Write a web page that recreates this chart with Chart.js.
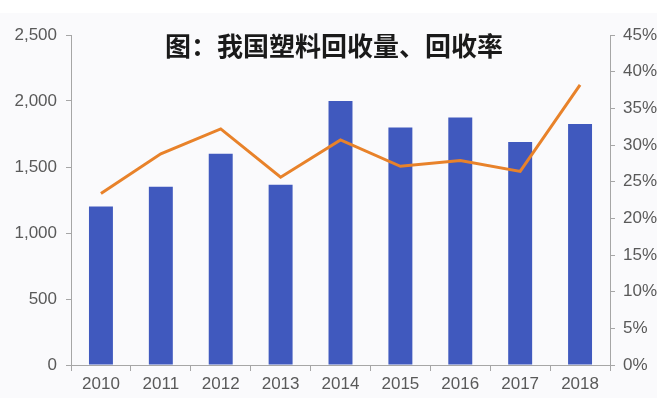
<!DOCTYPE html>
<html>
<head>
<meta charset="utf-8">
<script src="https://cdn.jsdelivr.net/npm/chart.js@4/dist/chart.umd.min.js"></script>
<style>
  html, body { margin: 0; padding: 0; background: #fff; }
  #wrap { width: 657px; height: 398px; }
</style>
</head>
<body>
<div id="wrap"><canvas id="myChart" width="657" height="398"></canvas></div>
<script>
// 年份
var years = ["2010", "2011", "2012", "2013", "2014", "2015", "2016", "2017", "2018"];
// 回收量（万吨）
var recycleAmount = [1200, 1350, 1600, 1365, 2000, 1800, 1875, 1690, 1825];
// 回收率
var recycleRate = [0.234, 0.288, 0.322, 0.256, 0.307, 0.271, 0.279, 0.264, 0.382];
// 刻度
var leftTicks = [0, 500, 1000, 1500, 2000, 2500];
var rightTicks = [0, 0.05, 0.10, 0.15, 0.20, 0.25, 0.30, 0.35, 0.40, 0.45];

var chartTitle = "图：我国塑料回收量、回收率";

var tickFont = { family: "'Liberation Sans', Arial, sans-serif", size: 17 };
var tickColor = "#595959";
var axisColor = "#a6a6a6";

// tło + tytuł
var decorPlugin = {
    id: "decor",
    beforeDraw: function(chart) {
        var ctx = chart.ctx;
        ctx.save();
        ctx.fillStyle = "#ffffff";
        ctx.fillRect(0, 0, chart.width, chart.height);
        ctx.fillStyle = "#fafafc";
        ctx.fillRect(0, 13, chart.width, chart.height - 13);
        ctx.restore();
    },
    afterDraw: function(chart) {
        var ctx = chart.ctx;
        ctx.save();
        ctx.font = "bold 26px 'Noto Sans CJK SC', sans-serif";
        ctx.fillStyle = "#1a1a1a";
        ctx.textAlign = "center";
        ctx.textBaseline = "middle";
        ctx.fillText(chartTitle, 334, 46);
        ctx.restore();
    }
};

new Chart("myChart", {
    type: "bar",
    data: {
        labels: years,
        datasets: [
            {
                type: "line",
                label: "回收率",
                data: recycleRate,
                yAxisID: "y1",
                borderColor: "#e8822a",
                borderWidth: 3,
                pointRadius: 0,
                tension: 0,
                fill: false
            },
            {
                type: "bar",
                label: "回收量",
                data: recycleAmount,
                yAxisID: "y",
                backgroundColor: "#4059be",
                categoryPercentage: 1,
                barPercentage: 0.4
            }
        ]
    },
    options: {
        responsive: false,
        animation: false,
        layout: { padding: { top: 35, left: 0, right: 0, bottom: 0 } },
        plugins: {
            legend: { display: false },
            tooltip: { enabled: false }
        },
        scales: {
            x: {
                offset: true,
                grid: { offset: true, drawOnChartArea: false, drawTicks: true, tickLength: 6, color: axisColor },
                border: { color: axisColor },
                ticks: { font: tickFont, color: tickColor, padding: 3, maxRotation: 0 },
                afterFit: function(scale) { scale.height = 33; }
            },
            y: {
                position: "left",
                min: 0,
                max: 2500,
                afterBuildTicks: function(scale) {
                    scale.ticks = leftTicks.map(function(v) { return { value: v }; });
                },
                grid: { drawOnChartArea: false, drawTicks: true, tickLength: 5, color: axisColor },
                border: { color: axisColor },
                ticks: {
                    font: tickFont,
                    color: tickColor,
                    padding: 9,
                    callback: function(v) { return v.toLocaleString("en-US"); }
                },
                afterFit: function(scale) { scale.width = 71; }
            },
            y1: {
                position: "right",
                min: 0,
                max: 0.45,
                afterBuildTicks: function(scale) {
                    scale.ticks = rightTicks.map(function(v) { return { value: v }; });
                },
                grid: { drawOnChartArea: false, drawTicks: true, tickLength: 5, color: axisColor },
                border: { color: axisColor },
                ticks: {
                    font: tickFont,
                    color: tickColor,
                    padding: 8,
                    callback: function(v) { return Math.round(v * 100) + "%"; }
                },
                afterFit: function(scale) { scale.width = 47; }
            }
        }
    },
    plugins: [decorPlugin]
});
</script>
</body>
</html>
